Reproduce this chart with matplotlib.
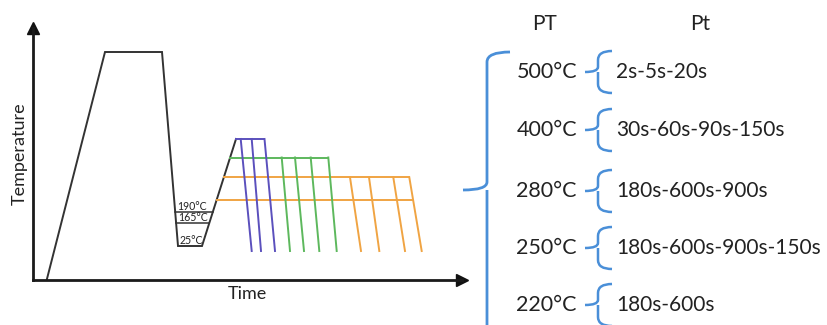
import numpy as np
import matplotlib
matplotlib.use("Agg")
import matplotlib.pyplot as plt
from matplotlib.path import Path
from matplotlib.patches import PathPatch

# ---- heat-treatment schedule (schematic units: time / temperature) ----
profile_time = [13.2, 71.5, 128.5, 144.5, 168.5, 202.5]
profile_temp = [0, 228, 228, 34, 34, 141]

quench_temps = [68, 57, 34]
quench_labels = ["190°C", "165°C", "25°C"]

drop_floor = 29

# partitioning holds: level, end of hold, drop start times, drop end times
violet_level = 141
violet_hold_end = 231.0
violet_drop_start = [207.2, 218.2, 231.0]
violet_drop_end = [218.2, 227.5, 241.5]

green_level = 122.5
green_hold_end = 294.8
green_drop_start = [248.2, 261.5, 277.2, 294.8]
green_drop_end = [256.5, 270.5, 285.8, 303.2]

orange_level = 102.7
orange_hold_end = 375.8
orange_drop_start = [316.5, 335.5, 359.8, 375.8]
orange_drop_end = [327.5, 345.8, 371.5, 388.2]

orange_low_level = 80
orange_low_hold_end = 379.2

# partitioning temperatures and times listed on the right
pt_labels = ["500°C", "400°C", "280°C", "250°C", "220°C"]
pt_times = ["2s-5s-20s", "30s-60s-90s-150s", "180s-600s-900s",
            "180s-600s-900s-150s", "180s-600s"]

VIOLET = "#5b50bd"
GREEN = "#5db85d"
ORANGE = "#f0a443"
BLUE = "#4a8fd8"
DARK = "#333333"

plt.rcParams["font.family"] = ["Lato", "DejaVu Sans"]

W, H = 828, 325
fig = plt.figure(figsize=(W / 100, H / 100), dpi=100)

# diagram axes
x0, x1, ytop, ybot = 33.5, 462, 28, 280
ax = fig.add_axes([x0 / W, 1 - ybot / H, (x1 - x0) / W, (ybot - ytop) / H])
ax.set_xlim(0, x1 - x0)
ax.set_ylim(0, ybot - ytop)
for s in ["top", "right"]:
    ax.spines[s].set_visible(False)
for s in ["left", "bottom"]:
    ax.spines[s].set_linewidth(2.0)
    ax.spines[s].set_color("#1a1a1a")
ax.set_xticks([])
ax.set_yticks([])
ax.plot(1, 0, marker=">", color="#111111", markersize=9, transform=ax.transAxes,
        clip_on=False)
ax.plot(0, 1, marker="^", color="#111111", markersize=9, transform=ax.transAxes,
        clip_on=False)
ax.set_xlabel("Time", fontsize=13, labelpad=4, color="#222222")
ax.set_ylabel("Temperature", fontsize=13, labelpad=4, color="#222222")

lw = 1.4
ax.plot(profile_time, profile_temp, color=DARK, lw=lw, solid_joinstyle="miter")

# quench-stop temperatures inside the quench trough
fall_t = profile_time[2:4][::-1]
fall_T = profile_temp[2:4][::-1]
rise_t = profile_time[4:6]
rise_T = profile_temp[4:6]
for T, lab in zip(quench_temps, quench_labels):
    xl = np.interp(T, fall_T, fall_t)
    xr = np.interp(T, rise_T, rise_t)
    if T != profile_temp[3]:
        ax.plot([xl, xr], [T, T], color=DARK, lw=1.1)
    ax.text(xl + 2.0, T + 0.5, lab, fontsize=7.6, color="#222222",
            ha="left", va="bottom")


def hold(level, end, starts, ends, color):
    xs = np.interp(level, rise_T, rise_t)
    ax.plot([xs, end], [level, level], color=color, lw=lw)
    for a, b in zip(starts, ends):
        ax.plot([a, b], [level, drop_floor], color=color, lw=lw)


hold(orange_low_level, orange_low_hold_end, [], [], ORANGE)
hold(orange_level, orange_hold_end, orange_drop_start, orange_drop_end, ORANGE)
hold(green_level, green_hold_end, green_drop_start, green_drop_end, GREEN)
hold(violet_level, violet_hold_end, violet_drop_start, violet_drop_end, VIOLET)

# overlay axes in pixel layout for the right-hand listing
ov = fig.add_axes([0, 0, 1, 1])
ov.set_xlim(0, W)
ov.set_ylim(H, 0)
ov.axis("off")

ov.text(545, 24, "PT", fontsize=15, ha="center", va="center", color="#222222")
ov.text(700, 24, "Pt", fontsize=15, ha="center", va="center", color="#222222")

# large brace
bx, tip, cy = 487, 463, 190
verts = [(510, 52), (bx, 52), (bx, 62),
         (bx, cy - 8),
         (bx, cy), (tip, cy),
         (bx, cy), (bx, cy + 8),
         (bx, 340)]
codes = [Path.MOVETO, Path.CURVE3, Path.CURVE3,
         Path.LINETO,
         Path.CURVE3, Path.CURVE3,
         Path.MOVETO, Path.CURVE3,
         Path.LINETO]
ov.add_patch(PathPatch(Path(verts, codes), fill=False, edgecolor=BLUE, lw=2.0,
                       capstyle="butt"))

row_y = [72, 130, 191, 248, 305]
for y, t, p in zip(row_y, pt_labels, pt_times):
    ov.text(577, y, t, fontsize=15.5, ha="right", va="center", color="#222222")
    ov.text(616, y, p, fontsize=15, ha="left", va="center", color="#222222")
    sx, ex = 598, 612
    v = [(ex, y - 21), (sx, y - 21), (sx, y - 12),
         (sx, y - 5),
         (sx, y), (585, y),
         (sx, y), (sx, y + 5),
         (sx, y + 12),
         (sx, y + 21), (ex, y + 21)]
    c = [Path.MOVETO, Path.CURVE3, Path.CURVE3,
         Path.LINETO,
         Path.CURVE3, Path.CURVE3,
         Path.MOVETO, Path.CURVE3,
         Path.LINETO,
         Path.CURVE3, Path.CURVE3]
    ov.add_patch(PathPatch(Path(v, c), fill=False, edgecolor=BLUE, lw=1.8))

fig.savefig("out.png", dpi=100)
